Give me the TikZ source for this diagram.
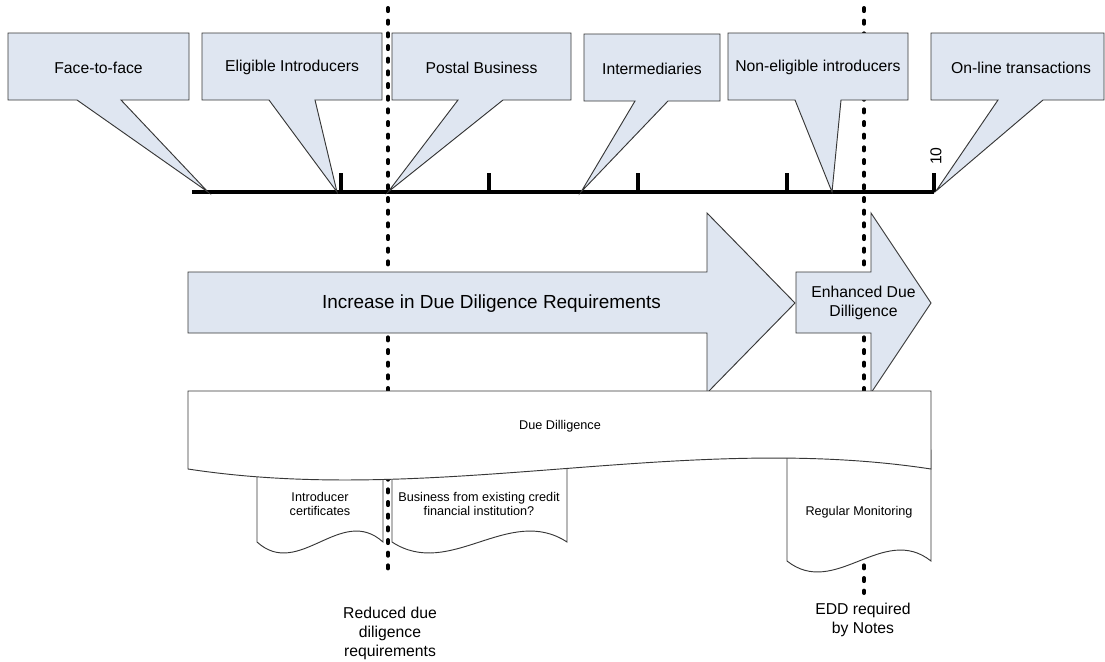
\documentclass[tikz,border=0pt]{standalone}
\usepackage{fontspec}
\setmainfont{Liberation Sans}
\definecolor{cfill}{RGB}{223,230,241}
\definecolor{cline}{RGB}{55,55,55}
\tikzset{
  callout/.style={fill=cfill, draw=cline, line width=0.7pt, line join=miter},
  docshape/.style={fill=white, draw=cline, line width=0.7pt},
  vdots/.style={line width=3pt, line cap=round, dash pattern=on 2.3pt off 7.2pt},
  axisline/.style={line width=3.4pt},
  tickline/.style={line width=2.6pt},
  lbl/.style={inner sep=0pt, align=center, font=\fontsize{11.8}{14.2}\selectfont},
  biglbl/.style={inner sep=0pt, align=center, font=\fontsize{14.2}{17}\selectfont},
  smalllbl/.style={inner sep=0pt, align=center, font=\fontsize{9.5}{10}\selectfont}
}
\begin{document}
\begin{tikzpicture}[x=0.75pt,y=-0.75pt]
\useasboundingbox (0,0) rectangle (1105,661);
% dotted guide lines (behind everything)
\coordinate (d1top) at (388,8);
\coordinate (d1bot) at (388,577);
\coordinate (d2top) at (864,8);
\coordinate (d2bot) at (864,593);
\draw[vdots] (d1top) -- (d1bot);
\draw[vdots] (d2top) -- (d2bot);
% axis
\coordinate (a0) at (192,192);
\coordinate (a1) at (934,192);
\draw[axisline] (a0) -- (a1);
\foreach \x in {341,489,638,787,934} \draw[tickline] (\x,192) -- (\x,173);
\node[lbl, rotate=90] (ten) at (936,156) {10};
% tips on the axis
\coordinate (t1) at (208,192);
\coordinate (t2) at (337,192);
\coordinate (t3) at (388,192);
\coordinate (t4) at (581,192);
\coordinate (t5) at (832,192);
\coordinate (t6) at (936,191);
% callouts
\draw[callout] (8,33) -- (189,33) -- (189,100) -- (121,100) -- (t1) -- (77,100) -- (8,100) -- cycle;
\node[lbl] (c1) at (98.5,67.5) {Face-to-face};
\draw[callout] (202,33) -- (382,33) -- (382,100) -- (315,100) -- (t2) -- (269,100) -- (202,100) -- cycle;
\node[lbl] (c2) at (292,67.5) {Eligible Introducers};
\draw[callout] (392,33) -- (571,33) -- (571,100) -- (503,100) -- (t3) -- (458,100) -- (392,100) -- cycle;
\node[lbl] (c3) at (481.5,67.5) {Postal Business};
\draw[callout] (584,34) -- (720,34) -- (720,101) -- (668,101) -- (t4) -- (635,101) -- (584,101) -- cycle;
\node[lbl] (c4) at (652,68.5) {Intermediaries};
\draw[callout] (728,33) -- (908,33) -- (908,100) -- (841,100) -- (t5) -- (795,100) -- (728,100) -- cycle;
\node[lbl] (c5) at (818,67.5) {Non-eligible introducers};
\draw[callout] (931,33) -- (1104,33) -- (1104,100) -- (1043,100) -- (t6) -- (998,100) -- (931,100) -- cycle;
\node[lbl] (c6) at (1021,67.5) {On-line transactions};
% block arrows
\draw[callout] (188,272) -- (707,272) -- (707,213) -- (795,303) -- (707,393) -- (707,333) -- (188,333) -- cycle;
\node[biglbl] (incr) at (491.5,304) {Increase in Due Diligence Requirements};
\draw[callout] (796,272) -- (871,272) -- (871,213) -- (931,303) -- (871,393) -- (871,333) -- (796,333) -- cycle;
\node[lbl] (edd) at (863.5,303) {Enhanced Due\\Dilligence};
% sub documents (behind the main document)
\draw[docshape] (257,450) -- (383,450) -- (383,542) .. controls (341,504) and (299,580) .. (257,542) -- cycle;
\node[smalllbl] (intro) at (320,504) {Introducer\\certificates};
\draw[docshape] (392,450) -- (567,450) -- (567,542) .. controls (509,504) and (450,580) .. (392,542) -- cycle;
\node[smalllbl] (busi) at (479,504) {Business from existing credit\\financial institution?};
\draw[docshape] (787,450) -- (931,450) -- (931,561) .. controls (883,523) and (835,599) .. (787,561) -- cycle;
\node[smalllbl] (regmon) at (859,512) {Regular Monitoring};
% main document
\draw[docshape] (188,391) -- (931,391) -- (931,469) .. controls (683,431) and (436,507) .. (188,469) -- cycle;
\node[smalllbl] (dd) at (560,426) {Due Dilligence};
% bottom labels
\node[lbl, anchor=north] (reduced) at (390,607) {Reduced due\\diligence\\requirements};
\node[lbl, anchor=north] (eddnotes) at (863,603) {EDD required\\by Notes};
\end{tikzpicture}
\end{document}
